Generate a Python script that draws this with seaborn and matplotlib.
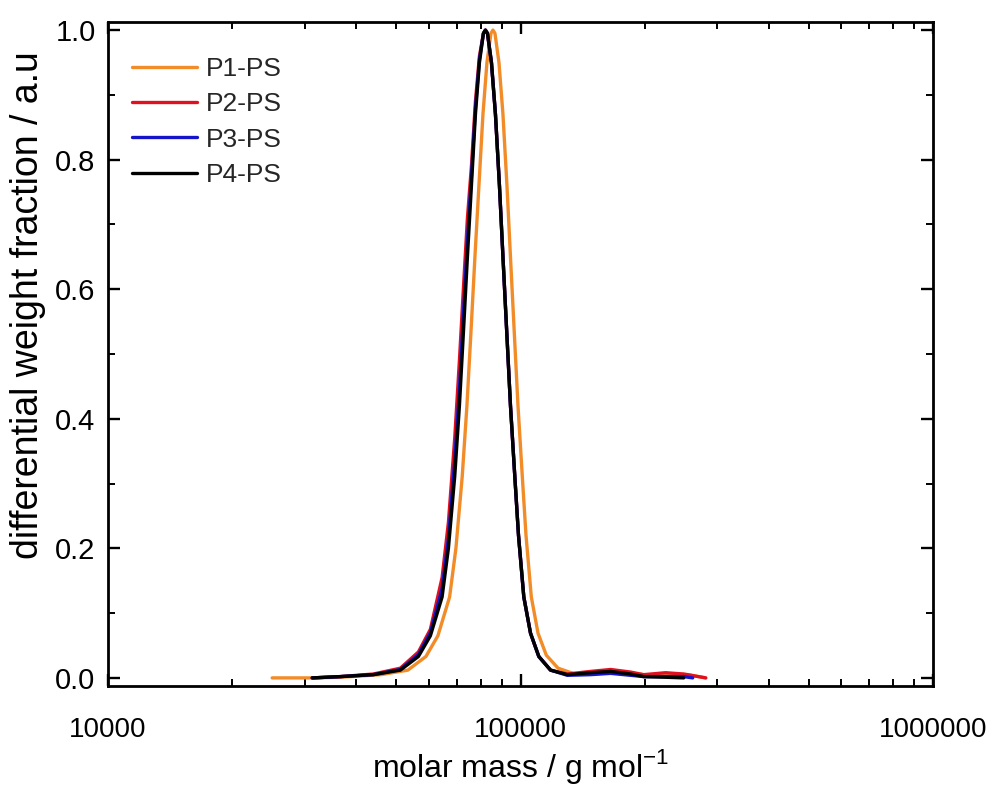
import matplotlib
matplotlib.use("Agg")
import matplotlib.pyplot as plt
import matplotlib.ticker as mticker
import seaborn as sns
import pandas as pd

# ---------------- data ----------------
series_names = ["P1-PS", "P2-PS", "P3-PS", "P4-PS"]
series_colors = ["#F28C28", "#E0101E", "#1414C8", "#000000"]

mass_p1 = [25000, 31270, 36570, 45860, 53330, 58970, 63060, 67320, 69730, 72230,
           74150, 75960, 77540, 79290, 81090, 82920, 84790, 85740, 86710, 88670,
           90670, 92720, 94550, 96430, 98610, 101010, 103120, 106220, 110280, 115510,
           123320, 135420, 150000, 167000, 187000, 205000, 230000, 255000, 281230]
wf_p1 = [0.000, 0.000, 0.001, 0.005, 0.012, 0.033, 0.065, 0.125, 0.20, 0.311,
         0.42, 0.542, 0.65, 0.76, 0.87, 0.95, 0.995, 1.0, 0.995, 0.95,
         0.87, 0.76, 0.65, 0.542, 0.42, 0.311, 0.22, 0.125, 0.069, 0.035,
         0.015, 0.006, 0.007, 0.010, 0.007, 0.004, 0.006, 0.005, 0.000]

mass_p2 = [31270, 36570, 43980, 51140, 56550, 60470, 64560, 66870, 69270, 71110,
           72840, 74360, 76040, 77760, 79520, 81310, 82220, 83150, 85030, 86950,
           88910, 90670, 92470, 94560, 96870, 98890, 101860, 105750, 110770, 118260,
           129860, 147850, 165350, 184930, 198800, 224870, 248690, 281230]
wf_p2 = [0.000, 0.002, 0.006, 0.015, 0.040, 0.075, 0.155, 0.24, 0.37, 0.49,
         0.61, 0.71, 0.79, 0.89, 0.96, 0.995, 1.0, 0.995, 0.95, 0.87,
         0.76, 0.65, 0.542, 0.42, 0.311, 0.22, 0.125, 0.069, 0.033, 0.012,
         0.006, 0.010, 0.013, 0.009, 0.005, 0.008, 0.006, 0.000]

mass_p3 = [31270, 36570, 43980, 51140, 56550, 60470, 64560, 66870, 69270, 71110,
           72840, 74360, 76040, 77760, 79520, 81310, 82220, 83150, 85030, 86950,
           88910, 90670, 92470, 94560, 96870, 98890, 101860, 105750, 110770, 118260,
           129860, 147850, 165350, 184930, 198800, 224870, 248690, 261500]
wf_p3 = [0.000, 0.002, 0.005, 0.013, 0.036, 0.070, 0.138, 0.215, 0.335, 0.445,
         0.57, 0.675, 0.775, 0.88, 0.955, 0.995, 1.0, 0.995, 0.95, 0.87,
         0.76, 0.65, 0.542, 0.42, 0.311, 0.22, 0.125, 0.069, 0.033, 0.012,
         0.004, 0.005, 0.007, 0.004, 0.002, 0.002, 0.002, 0.000]

mass_p4 = [31270, 36570, 43980, 51140, 56550, 60470, 64560, 66870, 69270, 71110,
           72840, 74360, 76040, 77760, 79520, 81310, 82220, 83150, 85030, 86950,
           88910, 90670, 92470, 94560, 96870, 98890, 101860, 105750, 110770, 118260,
           129860, 147850, 165350, 184930, 198800, 224870, 248690]
wf_p4 = [0.000, 0.002, 0.005, 0.012, 0.033, 0.065, 0.125, 0.20, 0.311, 0.42,
         0.542, 0.65, 0.76, 0.87, 0.95, 0.995, 1.0, 0.995, 0.95, 0.87,
         0.76, 0.65, 0.542, 0.42, 0.311, 0.22, 0.125, 0.069, 0.033, 0.012,
         0.005, 0.008, 0.010, 0.006, 0.002, 0.001, 0.000]

x_ticks = [10000, 100000, 1000000]
x_tick_labels = ["10000", "100000", "1000000"]
y_ticks = [0.0, 0.2, 0.4, 0.6, 0.8, 1.0]
y_tick_labels = ["0.0", "0.2", "0.4", "0.6", "0.8", "1.0"]

# ---------------- styling ----------------
sns.set_style("ticks")
plt.rcParams["font.family"] = ["Liberation Sans", "DejaVu Sans"]

fig = plt.figure(figsize=(9.9, 7.85), dpi=100)
ax = fig.add_axes([108 / 990, 1 - 686 / 785, (933 - 108) / 990, (686 - 22) / 785])

masses = [mass_p1, mass_p2, mass_p3, mass_p4]
fracs = [wf_p1, wf_p2, wf_p3, wf_p4]
for name, col, m, w in zip(series_names, series_colors, masses, fracs):
    df = pd.DataFrame({"M": m, "w": w})
    sns.lineplot(data=df, x="M", y="w", ax=ax, color=col, linewidth=2.4,
                 label=name, sort=False, estimator=None)

ax.set_xscale("log")
ax.set_xlim(10000, 1000000)
ax.set_ylim(-0.0125, 1.0125)

ax.xaxis.set_major_locator(mticker.FixedLocator(x_ticks))
ax.xaxis.set_major_formatter(mticker.FixedFormatter(x_tick_labels))
ax.xaxis.set_minor_locator(mticker.LogLocator(base=10, subs=range(2, 10)))
ax.xaxis.set_minor_formatter(mticker.NullFormatter())
ax.yaxis.set_major_locator(mticker.FixedLocator(y_ticks))
ax.yaxis.set_major_formatter(mticker.FixedFormatter(y_tick_labels))
ax.yaxis.set_minor_locator(mticker.MultipleLocator(0.1))

ax.tick_params(which="both", direction="in", top=True, right=True, colors="black")
ax.tick_params(which="major", length=8.5, width=1.7)
ax.tick_params(which="minor", length=5, width=1.4)
ax.tick_params(axis="x", which="major", pad=22, labelsize=20)
ax.tick_params(axis="y", which="major", pad=9, labelsize=21)
for s in ax.spines.values():
    s.set_linewidth(2.0)
    s.set_color("black")

ax.set_xlabel("molar mass / g mol$^{\\mathregular{-1}}$", fontsize=23, color="black")
ax.xaxis.label.set_va("baseline")
ax.xaxis.set_label_coords(0.5, -(777 - 686) / 664)

ax.set_ylabel("differential weight fraction / a.u", fontsize=27, color="black")
ax.yaxis.set_label_coords(-(108 - 46) / 825, (686 - 305) / 664)

ax.legend(loc="upper left", frameon=False, fontsize=19, handlelength=2.46,
          handletextpad=0.34, labelspacing=0.43, borderaxespad=0.0, borderpad=0.0,
          bbox_to_anchor=(24 / 825, (686 - 57) / 664))

fig.savefig("out.png", dpi=100)
